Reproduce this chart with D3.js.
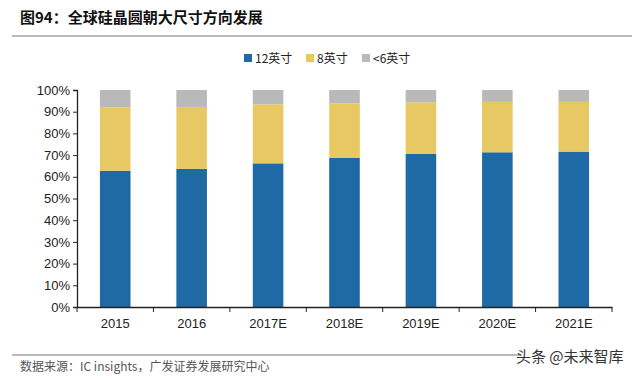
<!DOCTYPE html>
<html>
<head>
<meta charset="utf-8">
<script src="https://cdn.jsdelivr.net/npm/d3@7"></script>
<style>
  body { margin: 0; background: #fff; }
  text { font-family: "Liberation Sans", Arial, "Noto Sans CJK SC", sans-serif; }
  .cjk { font-family: "Noto Sans CJK SC", sans-serif; }
</style>
</head>
<body>
<div id="chart"></div>
<script>
var years = ["2015", "2016", "2017E", "2018E", "2019E", "2020E", "2021E"];
var seriesNames = ["12英寸", "8英寸", "<6英寸"];
var inch12 = [62.8, 63.7, 66.2, 68.8, 70.5, 71.3, 71.6];
var inch8 = [29.1, 28.5, 27.2, 25.1, 23.8, 23.2, 22.9];
var inch6 = [8.1, 7.8, 6.6, 6.1, 5.7, 5.5, 5.5];
var yTicks = [0, 10, 20, 30, 40, 50, 60, 70, 80, 90, 100];
var colors = ["#1f69a4", "#e8c862", "#b9b9b9"];

var svgWidth = 640;
var svgHeight = 379;
var margin = { top: 90, right: 28, bottom: 72, left: 77 };
var width = svgWidth - margin.left - margin.right;
var height = svgHeight - margin.top - margin.bottom;

var svg = d3.select("#chart")
  .append("svg")
  .attr("width", svgWidth)
  .attr("height", svgHeight);

// title
svg.append("text")
  .attr("class", "cjk")
  .attr("x", 20)
  .attr("y", 23)
  .attr("font-size", 15)
  .attr("font-weight", "bold")
  .attr("fill", "#111")
  .text("图94：全球硅晶圆朝大尺寸方向发展");

svg.append("line")
  .attr("x1", 12).attr("x2", 632)
  .attr("y1", 36).attr("y2", 36)
  .attr("stroke", "#777").attr("stroke-width", 1.2);

var chart = svg.append("g")
  .attr("transform", `translate(${margin.left}, ${margin.top})`);

var data = years.map(function(y, i) {
  return { year: y, s0: inch12[i], s1: inch8[i], s2: inch6[i] };
});

var stack = d3.stack().keys(["s0", "s1", "s2"]);
var stacked = stack(data);

var xScale = d3.scaleBand()
  .domain(years)
  .range([0, width])
  .paddingInner(0.6)
  .paddingOuter(0.3);

var yScale = d3.scaleLinear()
  .domain([0, 100])
  .range([height, 0]);

chart.selectAll(".layer")
  .data(stacked)
  .enter()
  .append("g")
  .attr("fill", (d, i) => colors[i])
  .selectAll("rect")
  .data(d => d)
  .enter()
  .append("rect")
  .attr("x", d => xScale(d.data.year))
  .attr("width", xScale.bandwidth())
  .attr("y", d => yScale(d[1]))
  .attr("height", d => yScale(d[0]) - yScale(d[1]));

// y axis
var leftAxis = d3.axisLeft(yScale)
  .tickValues(yTicks)
  .tickSize(4)
  .tickFormat(d => d + "%");

var yAxis = chart.append("g").call(leftAxis);
yAxis.select(".domain").attr("stroke", "#222").attr("stroke-width", 1.3);
yAxis.selectAll(".tick line").attr("stroke", "#222");
yAxis.selectAll("text")
  .attr("font-size", 13)
  .attr("fill", "#222")
  .attr("x", -7);

// x axis with ticks at band boundaries
var bottomAxis = d3.axisBottom(xScale).tickSize(0).tickSizeOuter(0);
var xAxis = chart.append("g")
  .attr("transform", `translate(0, ${height})`)
  .call(bottomAxis);
xAxis.select(".domain").attr("stroke", "#222").attr("stroke-width", 1.3);
xAxis.selectAll("text")
  .attr("font-size", 13)
  .attr("fill", "#222")
  .attr("dy", "1.35em");

var step = xScale.step();
xAxis.selectAll(".sep")
  .data(d3.range(years.length + 1))
  .enter()
  .append("line")
  .attr("x1", i => i * width / years.length)
  .attr("x2", i => i * width / years.length)
  .attr("y1", 0).attr("y2", 5)
  .attr("stroke", "#222");

// legend
var legendX = [244, 306, 362];
var legend = svg.append("g");
seriesNames.forEach(function(name, i) {
  legend.append("rect")
    .attr("x", legendX[i])
    .attr("y", 54)
    .attr("width", 8).attr("height", 8)
    .attr("fill", colors[i]);
  legend.append("text")
    .attr("class", "cjk")
    .attr("x", legendX[i] + 11)
    .attr("y", 63)
    .attr("font-size", 12)
    .attr("fill", "#222")
    .text(name);
});

// source
svg.append("line")
  .attr("x1", 12).attr("x2", 520)
  .attr("y1", 355).attr("y2", 355)
  .attr("stroke", "#777").attr("stroke-width", 1.2);

svg.append("text")
  .attr("class", "cjk")
  .attr("x", 20)
  .attr("y", 371)
  .attr("font-size", 12)
  .attr("fill", "#555")
  .text("数据来源：IC insights，广发证券发展研究中心");

svg.append("text")
  .attr("class", "cjk")
  .attr("x", 516)
  .attr("y", 362)
  .attr("font-size", 15)
  .attr("fill", "#333")
  .text("头条 @未来智库");
</script>
</body>
</html>
